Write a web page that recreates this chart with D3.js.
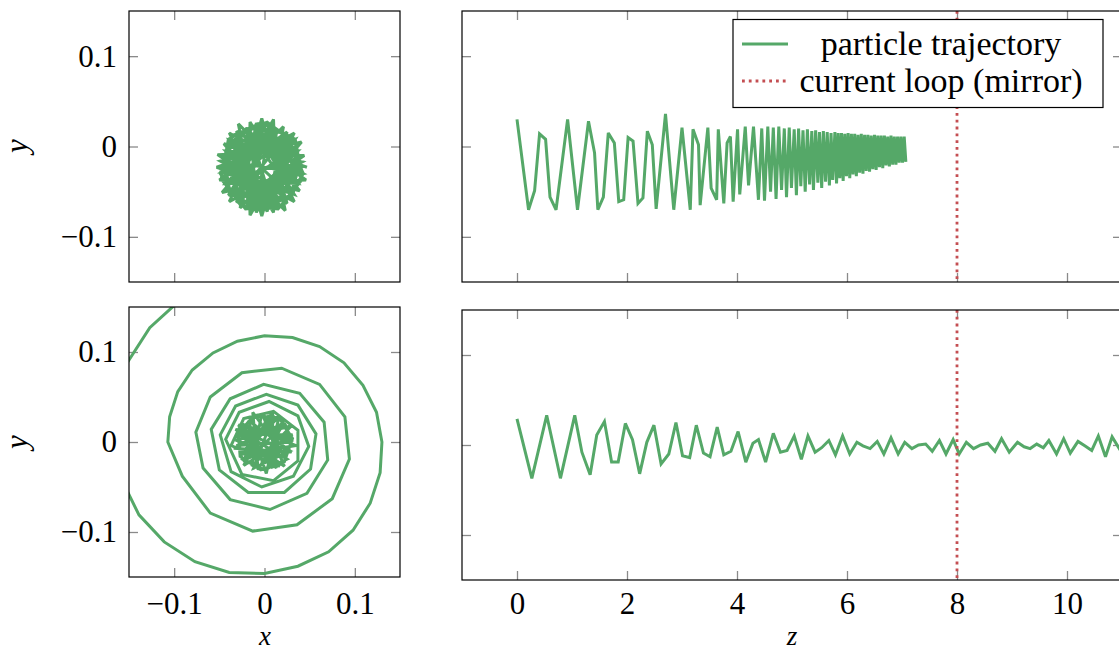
<!DOCTYPE html>
<html>
<head>
<meta charset="utf-8">
<script src="https://cdn.jsdelivr.net/npm/d3@7"></script>
<style>
  body { margin: 0; background: #fff; }
</style>
</head>
<body>
<div id="chart"></div>
<script>
const FRAME_WIDTH = 1119;
const FRAME_HEIGHT = 651;
const GREEN = "#55a868";
const RED = "#c44e52";

// ---- data ----
const xyTicks = [-0.1, 0, 0.1];
const zTicks = [0, 2, 4, 6, 8, 10];
const mirrorZ = 8;
const legendLabels = ["particle trajectory", "current loop (mirror)"];

// first run (stops before the mirror): y along z
const topZ = [0.00, 0.21, 0.32, 0.41, 0.52, 0.60, 0.71, 0.92, 1.10, 1.30, 1.41, 1.47, 1.57, 1.66, 1.77, 1.85, 1.94, 2.02, 2.11, 2.20,
  2.29, 2.37, 2.46, 2.53, 2.70, 2.85, 3.00, 3.15, 3.20, 3.30, 3.33, 3.47, 3.53, 3.63, 3.66, 3.76, 3.82, 3.88, 3.93, 4.01,
  4.05, 4.15, 4.21, 4.30, 4.39,
  4.45, 4.50, 4.56, 4.61, 4.66, 4.71, 4.76, 4.81, 4.86, 4.90, 4.95, 4.99, 5.04, 5.08, 5.12, 5.16, 5.20, 5.24, 5.28, 5.32,
  5.36, 5.39, 5.43, 5.47, 5.50, 5.54, 5.57, 5.61, 5.64, 5.68, 5.71, 5.74, 5.78, 5.81, 5.84, 5.87, 5.90, 5.93, 5.96, 5.99,
  6.02, 6.05, 6.08, 6.11, 6.14, 6.17, 6.20, 6.23, 6.26, 6.29, 6.32, 6.35, 6.38, 6.41, 6.44, 6.47, 6.50, 6.53, 6.56, 6.59,
  6.62, 6.65, 6.68, 6.71, 6.74, 6.77, 6.80, 6.83, 6.86, 6.89, 6.92, 6.95, 6.98, 7.01, 7.04, 7.07];
const topY = [0.030, -0.070, -0.049, 0.014, 0.008, -0.056, -0.070, 0.030, -0.070, 0.028, -0.007, -0.070, -0.056, 0.015, 0.004, -0.061, -0.059, 0.010, 0.006, -0.063,
  -0.057, 0.017, 0.002, -0.069, 0.036, -0.070, 0.021, -0.070, 0.019, 0.002, -0.065, 0.021, -0.046, -0.059, 0.019, -0.063, 0.004, 0.011, -0.061, 0.019,
  -0.053, 0.022, -0.043, 0.022, -0.059,
  0.020, -0.060, 0.022, -0.050, 0.021, -0.058, 0.022, -0.048, 0.020, -0.056, 0.021, -0.046, 0.019, -0.054, 0.020, -0.044, 0.018, -0.050, 0.019, -0.042,
  0.017, -0.048, 0.018, -0.040, 0.016, -0.046, 0.017, -0.039, 0.016, -0.043, 0.015, -0.037, 0.016, -0.041, 0.015, -0.035, 0.015, -0.038, 0.014, -0.033,
  0.015, -0.035, 0.014, -0.031, 0.014, -0.033, 0.013, -0.029, 0.014, -0.030, 0.013, -0.027, 0.013, -0.028, 0.012, -0.025, 0.013, -0.026, 0.012, -0.023,
  0.012, -0.024, 0.012, -0.021, 0.011, -0.022, 0.012, -0.020, 0.011, -0.020, 0.011, -0.018, 0.011, -0.018, 0.011, -0.017];

// first run seen along z: a dense gyration disc
const discX = [0.047, -0.039, 0.010, 0.013, -0.047, 0.043, -0.039, 0.003, 0.021, -0.043, 0.046, -0.031, -0.003, 0.025, -0.050, 0.037,
  -0.029, -0.009, 0.033, -0.048, 0.039, -0.019, -0.016, 0.034, -0.053, 0.033, -0.016, -0.019, 0.041, -0.049, 0.033, -0.009,
  -0.027, 0.037, -0.052, 0.025, -0.003, -0.031, 0.044, -0.043, 0.023, 0.003, -0.039, 0.042, -0.045, 0.013, 0.010, -0.040,
  0.041, 0.024, -0.014, -0.043, -0.041, -0.009, 0.028, 0.040, 0.019, -0.020, -0.045, -0.038, -0.003, 0.032,
  0.034, -0.038, 0.022, -0.029, 0.004, -0.008, -0.016, 0.008, -0.033, 0.026, -0.041, 0.036,
  0.020, -0.030, -0.015, 0.015, 0.010, -0.020,
  0.037, 0.003, -0.036, -0.049, -0.026, 0.015, 0.042, 0.034, -0.003, -0.040, -0.048, -0.021, 0.020, 0.043,
  0.026, -0.032, -0.025, 0.028, 0.007, -0.044, -0.003, 0.034, -0.014, -0.034, 0.017, 0.030, -0.032, -0.026, 0.035, 0.010,
  -0.041, -0.008, 0.038, -0.008, -0.045, 0.010, 0.031, -0.028, -0.032, 0.027, 0.019, -0.034, -0.013, 0.039, -0.003, -0.040];
const discY = [-0.023, 0.007, -0.073, 0.020, -0.051, -0.030, 0.015, -0.072, 0.022, -0.041, -0.037, 0.017, -0.077, 0.016, -0.037, -0.041,
  0.025, -0.073, 0.015, -0.029, -0.049, 0.020, -0.076, 0.008, -0.023, -0.053, 0.027, -0.066, 0.005, -0.016, -0.061, 0.026,
  -0.068, -0.005, -0.009, -0.063, 0.031, -0.062, -0.010, -0.005, -0.071, 0.027, -0.061, -0.017, 0.003, -0.066, 0.030, -0.054,
  -0.023, 0.014, 0.022, -0.005, -0.047, -0.070, -0.056, -0.017, 0.018, 0.020, -0.011, -0.052, -0.070, -0.052,
  -0.009, -0.041, 0.009, -0.054, 0.018, -0.065, 0.017, -0.063, 0.004, -0.051, -0.016, -0.029,
  0.010, -0.015, 0.015, -0.030, 0.020, -0.040,
  0.002, 0.027, 0.012, -0.030, -0.066, -0.069, -0.036, 0.008, 0.027, 0.008, -0.036, -0.069, -0.066, -0.030,
  0.008, 0.001, -0.064, -0.037, 0.018, -0.017, -0.067, -0.018, 0.022, -0.037, -0.059, 0.004, 0.008, -0.055, -0.047, 0.010,
  -0.012, -0.068, -0.023, 0.017, -0.035, -0.056, -0.002, 0.013, -0.054, -0.047, 0.018, -0.009, -0.064, -0.029, 0.021, -0.028];

// second run (passes the mirror): y along z
const botZ = [0.00, 0.27, 0.54, 0.79, 1.05, 1.18, 1.33, 1.45, 1.59, 1.72, 1.84, 1.97, 2.10, 2.23, 2.36, 2.49, 2.62, 2.76, 2.89, 3.01,
  3.14, 3.26, 3.39, 3.51, 3.64, 3.76, 3.89, 4.02, 4.16, 4.29, 4.39, 4.52, 4.66, 4.79, 4.91, 5.04, 5.17, 5.29, 5.42, 5.54,
  5.67, 5.79, 5.92, 6.05, 6.18, 6.29, 6.42, 6.55, 6.67, 6.80, 6.93, 7.05, 7.18, 7.30, 7.43, 7.55, 7.68, 7.80, 7.93, 8.04,
  8.17, 8.30, 8.43, 8.56, 8.69, 8.81, 8.95, 9.10, 9.22, 9.33, 9.45, 9.57, 9.67, 9.81, 9.94, 10.06, 10.20, 10.33, 10.45, 10.57,
  10.70, 10.82, 10.95, 11.07, 11.20];
const botY = [0.029, -0.037, 0.033, -0.037, 0.033, -0.008, -0.033, 0.011, 0.026, -0.019, -0.019, 0.024, 0.006, -0.032, 0.003, 0.022, -0.021, -0.010, 0.025, -0.012,
  -0.014, 0.022, -0.009, -0.013, 0.020, -0.011, -0.007, 0.015, -0.019, 0.002, 0.006, -0.019, 0.013, -0.008, -0.006, 0.010, -0.016, 0.010, -0.008, -0.003,
  0.005, -0.011, 0.010, -0.010, 0.003, -0.001, -0.004, 0.004, -0.010, 0.008, -0.010, 0.003, -0.004, 0.000, 0.001, -0.007, 0.005, -0.010, 0.006, -0.010,
  0.003, -0.004, 0.000, 0.002, -0.007, 0.007, -0.008, 0.003, -0.002, -0.004, 0.001, -0.003, 0.005, -0.010, 0.007, -0.009, 0.004, -0.001, -0.006, 0.010,
  -0.013, 0.009, -0.004, 0.006, -0.008];

// second run seen along z: core, then widening loops
const spiralX = [
  0.031, 0.019, -0.008, -0.029, -0.027, -0.004, 0.022, 0.031, 0.016, -0.012, -0.030, -0.025, 0.000, 0.025,
  -0.027, 0.028, -0.012, 0.010, -0.022, 0.024, -0.031,
  0.030, -0.029, 0.013, 0.005, -0.023, 0.031, -0.029, 0.022, -0.003, -0.014, 0.030, -0.032, 0.024, -0.013, -0.007,
  0.021, -0.034, 0.030, -0.018, 0.002, 0.016, -0.027, 0.035, -0.025, 0.009, 0.009, -0.024, 0.030, -0.032, 0.017,
  -0.037, -0.023, 0.010, 0.037, 0.037, 0.010, -0.025,
  -0.043, -0.028, 0.005, 0.037, 0.049, 0.032, -0.003, -0.037,
  -0.049, -0.032, 0.002, 0.037, 0.057, 0.051, 0.022, -0.018, -0.050,
  -0.059, -0.038, -0.001, 0.039, 0.066, 0.070, 0.047, 0.006, -0.038, -0.068,
  -0.076, -0.060, -0.025, 0.019, 0.061, 0.089, 0.094, 0.075, 0.036, -0.013, -0.060, -0.091,
  -0.107, -0.105, -0.096, -0.080, -0.057, -0.030, 0.000, 0.031, 0.061, 0.088, 0.109, 0.124, 0.130, 0.128, 0.117, 0.098,
  0.071, 0.037, 0.000, -0.039, -0.077, -0.111, -0.139, -0.158, -0.168, -0.166, -0.152, -0.127, -0.092, -0.049, 0.000];
const spiralY = [
  0.000, 0.025, 0.030, 0.012, -0.016, -0.031, -0.022, 0.004, 0.027, 0.029, 0.008, -0.019, -0.031, -0.019,
  0.012, -0.010, -0.029, 0.030, -0.021, 0.020, -0.004,
  0.000, 0.019, -0.029, 0.030, -0.026, 0.008, 0.009, -0.027, 0.032, -0.027, 0.018, 0.002, -0.018, 0.033, -0.031,
  0.021, -0.007, -0.011, 0.024, -0.035, 0.028, -0.014, -0.004, 0.020, -0.029, 0.034, -0.021, 0.005, 0.014, -0.027,
  -0.004, 0.026, 0.034, 0.013, -0.021, -0.043, -0.036,
  0.003, 0.033, 0.045, 0.029, -0.005, -0.038, -0.050, -0.033,
  0.008, 0.040, 0.053, 0.041, 0.009, -0.030, -0.056, -0.056, -0.031,
  0.014, 0.048, 0.064, 0.054, 0.022, -0.020, -0.057, -0.075, -0.064, -0.029,
  0.011, 0.050, 0.077, 0.082, 0.064, 0.028, -0.019, -0.063, -0.092, -0.099, -0.079, -0.038,
  0.000, 0.028, 0.056, 0.080, 0.099, 0.112, 0.118, 0.116, 0.106, 0.088, 0.063, 0.033, 0.000, -0.034, -0.068, -0.098,
  -0.122, -0.138, -0.146, -0.145, -0.133, -0.111, -0.081, -0.042, 0.000, 0.045, 0.088, 0.127, 0.159, 0.182, 0.192];

// ---- layout ----
const TICK_FONT = 31;
const LABEL_BASELINE = 614;
const SERIF = "Liberation Serif, DejaVu Serif, serif";

const svg = d3.select("#chart")
  .append("svg")
    .attr("width", FRAME_WIDTH)
    .attr("height", FRAME_HEIGHT);

function addPanel(name, box, xDomain, yDomain, xTicks, labelX, labelY) {
  const g = svg.append("g").attr("transform", "translate(" + box.left + "," + box.top + ")");
  const x = d3.scaleLinear().domain(xDomain).range([0, box.width]);
  const y = d3.scaleLinear().domain(yDomain).range([box.height, 0]);

  g.append("clipPath").attr("id", "clip-" + name)
    .append("rect").attr("width", box.width).attr("height", box.height);

  const fmt = d3.format("~g");
  const bottomPad = LABEL_BASELINE - box.top - box.height - 0.71 * TICK_FONT;

  // ticks on all four sides, pointing inward
  g.append("g").attr("transform", "translate(0," + box.height + ")")
    .call(d3.axisBottom(x).tickValues(xTicks).tickSizeInner(-9).tickSizeOuter(0)
      .tickPadding(bottomPad).tickFormat(labelX ? fmt : ""));
  g.append("g")
    .call(d3.axisTop(x).tickValues(xTicks).tickSizeInner(-9).tickSizeOuter(0).tickFormat(""));
  g.append("g")
    .call(d3.axisLeft(y).tickValues(xyTicks).tickSizeInner(-9).tickSizeOuter(0)
      .tickPadding(12).tickFormat(labelY ? fmt : ""));
  g.append("g").attr("transform", "translate(" + box.width + ",0)")
    .call(d3.axisRight(y).tickValues(xyTicks).tickSizeInner(-9).tickSizeOuter(0).tickFormat(""));

  g.selectAll(".domain").remove();
  g.selectAll(".tick line").attr("stroke", "#8a8a8a").attr("stroke-width", 1.3);
  g.selectAll(".tick text").attr("font-size", TICK_FONT)
    .style("font-family", SERIF).attr("fill", "#000");

  const plot = g.append("g").attr("clip-path", "url(#clip-" + name + ")");
  return {g: g, plot: plot, x: x, y: y, box: box};
}

const XY = [-0.15, 0.15];
const ZR = [-1, 11];

const pTL = addPanel("tl", {left: 129, top: 11, width: 271, height: 271}, XY, XY, xyTicks, false, true);
const pTR = addPanel("tr", {left: 462, top: 11, width: 660, height: 271}, ZR, XY, zTicks, false, false);
const pBL = addPanel("bl", {left: 129, top: 307, width: 271, height: 270}, XY, XY, xyTicks, true, true);
const pBR = addPanel("br", {left: 462, top: 310, width: 660, height: 270}, ZR, XY, zTicks, true, false);

function drawPath(p, xs, ys) {
  const line = d3.line().x(d => p.x(d[0])).y(d => p.y(d[1]));
  p.plot.append("path")
    .datum(d3.zip(xs, ys))
    .attr("d", line)
    .attr("fill", "none")
    .attr("stroke", GREEN)
    .attr("stroke-width", 3)
    .attr("stroke-linejoin", "miter")
    .attr("stroke-miterlimit", 3);
}

drawPath(pTL, discX, discY);
drawPath(pTR, topZ, topY);
drawPath(pBL, spiralX, spiralY);
drawPath(pBR, botZ, botY);

// mirror position
[pTR, pBR].forEach(p => {
  p.plot.append("line")
    .attr("x1", p.x(mirrorZ)).attr("x2", p.x(mirrorZ))
    .attr("y1", 0).attr("y2", p.box.height)
    .attr("stroke", RED)
    .attr("stroke-width", 2.8)
    .attr("stroke-dasharray", "2.8,4");
});

// frames on top
[pTL, pTR, pBL, pBR].forEach(p => {
  p.g.append("rect")
    .attr("width", p.box.width).attr("height", p.box.height)
    .attr("fill", "none").attr("stroke", "#000").attr("stroke-width", 1.2);
});

// axis labels
[146, 442].forEach(cy => {
  svg.append("text")
    .attr("transform", "translate(27," + cy + ") rotate(-90)")
    .attr("text-anchor", "middle")
    .style("font-family", SERIF)
    .attr("font-style", "italic")
    .attr("font-size", 31)
    .text("y");
});
svg.append("text").attr("x", 265).attr("y", 645).attr("text-anchor", "middle")
  .style("font-family", SERIF).attr("font-style", "italic").attr("font-size", 27).text("x");
svg.append("text").attr("x", 792).attr("y", 645).attr("text-anchor", "middle")
  .style("font-family", SERIF).attr("font-style", "italic").attr("font-size", 27).text("z");

// legend
const legend = svg.append("g");
legend.append("rect")
  .attr("x", 733).attr("y", 19.5).attr("width", 370).attr("height", 88)
  .attr("fill", "#fff").attr("stroke", "#000").attr("stroke-width", 1.2);
legend.append("line")
  .attr("x1", 742).attr("x2", 788).attr("y1", 44).attr("y2", 44)
  .attr("stroke", GREEN).attr("stroke-width", 3);
legend.append("line")
  .attr("x1", 742).attr("x2", 788).attr("y1", 81).attr("y2", 81)
  .attr("stroke", RED).attr("stroke-width", 2.8).attr("stroke-dasharray", "2.8,4");
legend.selectAll("text.lbl")
  .data(legendLabels)
  .enter()
  .append("text")
    .attr("class", "lbl")
    .attr("x", 941)
    .attr("y", (d, i) => 55 + i * 37)
    .attr("text-anchor", "middle")
    .style("font-family", SERIF)
    .attr("font-size", 34)
    .attr("fill", "#000")
    .text(d => d);
</script>
</body>
</html>
